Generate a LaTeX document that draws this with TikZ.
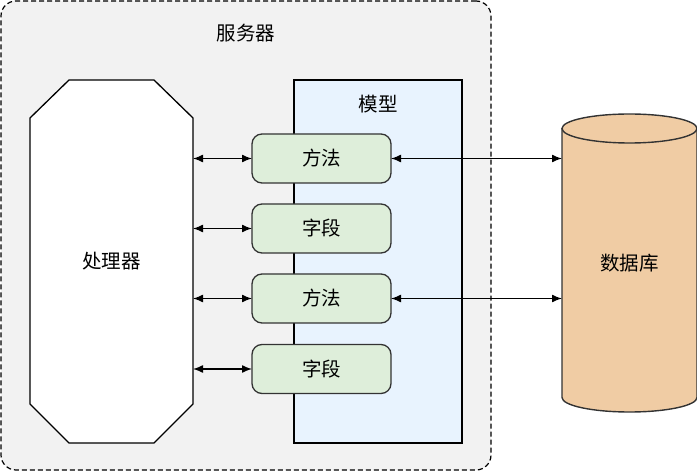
\documentclass[tikz,border=0pt]{standalone}
\usepackage{fontspec}
\setmainfont{Noto Sans CJK SC}
\usetikzlibrary{arrows.meta}
\definecolor{servergray}{HTML}{F2F2F2}
\definecolor{modelblue}{HTML}{E8F3FE}
\definecolor{fieldgreen}{HTML}{DEEEDA}
\definecolor{dbtan}{HTML}{F0CCA4}
\definecolor{edgegray}{HTML}{333333}
\tikzset{
  lbl/.style={font=\fontsize{19.5}{19.5}\selectfont, text=black},
  servbox/.style={draw=black, dashed, dash pattern=on 5pt off 3pt, fill=servergray, rounded corners=15pt, line width=1.2pt, minimum width=490pt, minimum height=469pt, inner sep=0pt, outer sep=0pt},
  modelbox/.style={draw=black, fill=modelblue, line width=1.2pt, minimum width=168pt, minimum height=363pt, inner sep=0pt, outer sep=0pt},
  procbox/.style={minimum width=163pt, minimum height=363pt, inner sep=0pt, outer sep=0pt, lbl},
  octline/.style={draw=black, fill=white, line width=1.3pt},
  membox/.style={draw=edgegray, fill=fieldgreen, rounded corners=10pt, line width=1.3pt, minimum width=139pt, minimum height=49pt, inner sep=0pt, outer sep=0pt, lbl},
  link/.style={{Latex[length=10pt,width=8pt]}-{Latex[length=10pt,width=8pt]}, line width=1.4pt, black},
}
\begin{document}
\begin{tikzpicture}[x=1pt,y=-1pt]
\useasboundingbox (0,0) rectangle (697,473);
\node[servbox] (server) at (246,235.5) {};
\node[lbl] (servlbl) at (246,33) {服务器};
\node[modelbox] (model) at (378,261.5) {};
\node[lbl] (modellbl) at (378,104) {模型};
\path[octline] (30,118) -- (69,80) -- (154,80) -- (193,118) -- (193,404) -- (154,443) -- (69,443) -- (30,404) -- cycle;
\node[procbox] (proc) at (111.5,261.5) {处理器};
\node[membox] (m1) at (321.5,158.5) {方法};
\node[membox] (f1) at (321.5,228.5) {字段};
\node[membox] (m2) at (321.5,298.5) {方法};
\node[membox] (f2) at (321.5,369) {字段};
% database cylinder
\node[minimum width=135pt, minimum height=298pt, inner sep=0pt, outer sep=0pt] (db) at (629.5,263) {};
\fill[dbtan] (562,128.5) -- (562,397.5) arc[start angle=180, end angle=360, x radius=67.5pt, y radius=14.5pt] -- (697,128.5) arc[start angle=0, end angle=180, x radius=67.5pt, y radius=14.5pt] -- cycle;
\draw[edgegray, line width=1.4pt] (562,128.5) -- (562,397.5) arc[start angle=180, end angle=360, x radius=67.5pt, y radius=14.5pt] -- (697,128.5);
\draw[edgegray, line width=1.4pt] (629.5,128.5) ellipse[x radius=67.5pt, y radius=14.5pt];
\node[lbl] (dblbl) at (db) {数据库};
% connectors
\draw[link] (proc.east |- m1) -- (m1.west);
\draw[link] (proc.east |- f1) -- (f1.west);
\draw[link] (proc.east |- m2) -- (m2.west);
\draw[link] (proc.east |- f2) -- (f2.west);
\draw[link] (m1.east) -- (db.west |- m1);
\draw[link] (m2.east) -- (db.west |- m2);
\end{tikzpicture}
\end{document}
